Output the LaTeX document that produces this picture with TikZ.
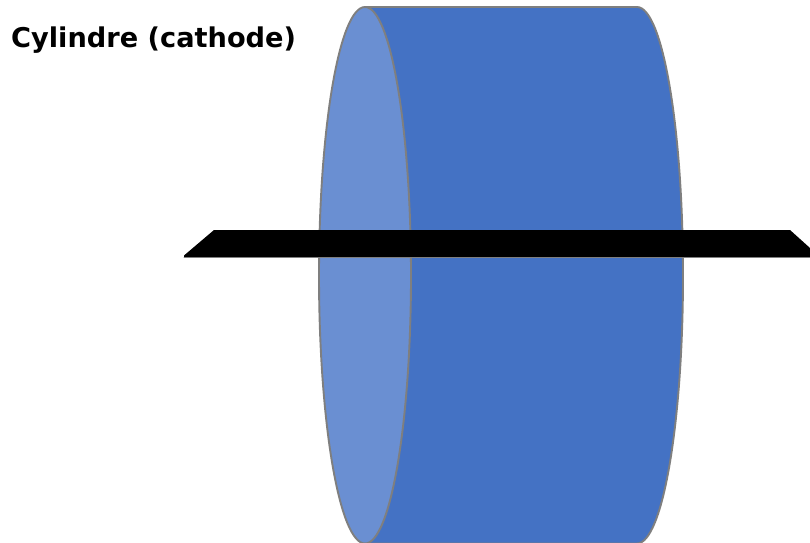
\documentclass[tikz,border=0pt]{standalone}
\usepackage{fontspec}
\setmainfont{DejaVu Sans}
\definecolor{cylBodyColor}{HTML}{4472C4}
\definecolor{cylFaceColor}{HTML}{6A8FD2}
\definecolor{cylLineColor}{HTML}{7F7F7F}
\tikzset{
  cylinder line/.style={draw=cylLineColor, line width=1.9pt},
  cyl label/.style={anchor=base west, inner sep=0pt, font=\bfseries\fontsize{27.2}{32}\selectfont}
}
\begin{document}
\begin{tikzpicture}
\def\cellsz{1pt}
\providecommand{\cylRx}{46}
\providecommand{\cylRy}{268.25}
\begin{scope}[x=\cellsz, y=-\cellsz, line cap=round, line join=round]
  % Frame of the picture
  \useasboundingbox (0,0) rectangle (810,542);
  \clip (0,0) rectangle (810,542);
  % Body of the cylinder
  \path[fill=cylBodyColor, cylinder line] (365,7) -- (637,7)
    arc[start angle=90, end angle=-90, x radius=\cylRx, y radius=-\cylRy]
    -- (365,543.5);
  % Front face
  \path[fill=cylFaceColor, cylinder line] (365,275.25) ellipse[x radius=\cylRx, y radius=\cylRy];
  % Wire through the cylinder
  \fill[black] (214,230) -- (790,230) -- (820,257) -- (184,257) -- (184,255.5) -- cycle;
  \draw[cylLineColor, line width=0.8pt] (184,257.4) -- (810,257.4);
  % Label
  \node[cyl label] (cathode) at (11,47) {Cylindre (cathode)};
\end{scope}
\end{tikzpicture}
\end{document}
